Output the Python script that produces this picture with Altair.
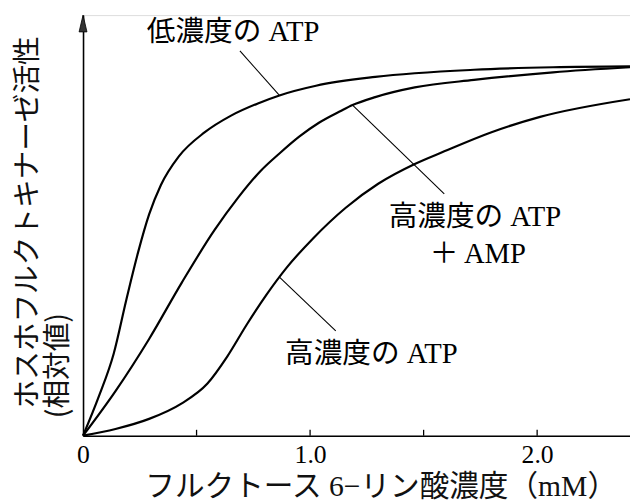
import altair as alt
import pandas as pd

# ---- data (x: mM, y: relative activity 0-100) ----
fbp_low_atp = [0, 0.070, 0.135, 0.191, 0.243, 0.291, 0.343, 0.422, 0.535, 0.652, 0.770, 0.865, 1.026, 1.287, 1.722, 2.070, 2.409]
act_low_atp = [0, 9.4, 19.5, 32.4, 43.7, 52.6, 59.6, 66.4, 72.1, 76.1, 79.0, 80.9, 83.2, 85.3, 87.0, 87.6, 87.8]

fbp_high_amp = [0, 0.143, 0.291, 0.435, 0.578, 0.683, 0.783, 0.865, 0.952, 1.039, 1.135, 1.187, 1.287, 1.461, 1.722, 2.070, 2.409]
act_high_amp = [0, 10.6, 23.0, 36.4, 48.8, 56.6, 63.0, 67.1, 71.1, 74.4, 77.2, 78.6, 80.5, 82.8, 84.6, 86.4, 87.6]

fbp_high_atp = [0, 0.143, 0.291, 0.435, 0.548, 0.635, 0.722, 0.809, 0.896, 1.013, 1.157, 1.300, 1.461, 1.591, 1.796, 2.013, 2.409]
act_high_atp = [0, 1.6, 4.0, 7.7, 12.4, 18.8, 26.5, 33.6, 39.9, 46.9, 54.2, 59.9, 64.6, 67.6, 72.1, 75.8, 80.0]

tick_values = [0.5, 1.0, 1.5, 2.0]
label_values = [0, 1, 2]

ann_text = ["低濃度の ATP", "高濃度の ATP", "＋ AMP", "高濃度の ATP"]
ann_x = [0.661, 1.726, 1.739, 1.270]
ann_y = [96.0, 51.9, 43.2, 19.5]

lead_x = [0.691, 1.187, 0.865]
lead_y = [91.5, 78.6, 37.7]
lead_x2 = [0.865, 1.591, 1.113]
lead_y2 = [80.9, 57.5, 24.9]

y_title_1 = "ホスホフルクトキナーゼ活性"
y_title_2 = "(相対値)"
x_title = "フルクトース 6−リン酸濃度（mM）"

# ---- tables ----
curves = pd.DataFrame({
    "x": fbp_low_atp + fbp_high_amp + fbp_high_atp,
    "y": act_low_atp + act_high_amp + act_high_atp,
    "s": ["low"] * len(fbp_low_atp) + ["amp"] * len(fbp_high_amp) + ["high"] * len(fbp_high_atp),
})
ticks = pd.DataFrame({"x": tick_values, "y": [0] * len(tick_values), "y2": [1.4] * len(tick_values)})
ann = pd.DataFrame({"x": ann_x, "y": ann_y, "t": ann_text})
leads = pd.DataFrame({"x": lead_x, "y": lead_y, "x2": lead_x2, "y2": lead_y2})
arrow = pd.DataFrame({"x": [0], "y": [98.0]})

XMAX = 2.409
xs = alt.Scale(domain=[0, XMAX], nice=False, zero=False)
ys = alt.Scale(domain=[0, 100], nice=False)

xa = alt.Axis(values=label_values, labelExpr="datum.value == 0 ? '0' : format(datum.value, '.1f')",
              ticks=False, tickSize=0, grid=False, domainColor="black", domainWidth=1.6,
              labelFont="Liberation Serif", labelFontSize=26, labelColor="black",
              labelPadding=6, labelFlush=False, title=None)
ya = alt.Axis(ticks=False, labels=False, grid=False, domainColor="black", domainWidth=1.6, title=None)

X = lambda f="x": alt.X(f"{f}:Q", scale=xs, axis=xa)
Y = lambda f="y": alt.Y(f"{f}:Q", scale=ys, axis=ya)

lines = alt.Chart(curves).mark_line(color="black", strokeWidth=2.2, interpolate="monotone").encode(
    x=X(), y=Y(), detail="s:N")

tick_marks = alt.Chart(ticks).mark_rule(color="black", strokeWidth=1.3).encode(
    x=X(), y=Y(), y2="y2:Q")

lead_marks = alt.Chart(leads).mark_rule(color="black", strokeWidth=1.1).encode(
    x=X(), y=Y(), x2="x2:Q", y2="y2:Q")

labels = alt.Chart(ann).mark_text(font="Liberation Serif, Noto Sans CJK JP", fontSize=29,
                                  color="black", align="center", baseline="middle").encode(
    x=X(), y=Y(), text="t:N")

arrow_mark = alt.Chart(arrow).mark_point(shape="M0,-1L0.47,1L-0.47,1Z", size=289, filled=True,
                                         color="#333333", opacity=1, strokeWidth=0.8,
                                         stroke="black").encode(x=X(), y=Y())

yt1 = alt.Chart(pd.DataFrame({"t": [y_title_1]})).mark_text(
    font="Noto Sans CJK JP", fontSize=29, angle=270, align="center", baseline="middle", color="#111").encode(
    x=alt.value(-56), y=alt.value(210), text="t:N")
yt2 = alt.Chart(pd.DataFrame({"t": [y_title_2]})).mark_text(
    font="Noto Sans CJK JP", fontSize=29, angle=270, align="center", baseline="middle", color="#111").encode(
    x=alt.value(-25), y=alt.value(355), text="t:N")
xt = alt.Chart(pd.DataFrame({"t": [x_title]})).mark_text(
    font="Liberation Serif, Noto Sans CJK JP", fontSize=30, align="center", baseline="middle", color="#111").encode(
    x=alt.value(302), y=alt.value(478), text="t:N")

chart = alt.layer(lines, tick_marks, lead_marks, labels, arrow_mark, yt1, yt2, xt).properties(
    width=554, height=426,
    padding={"left": 76, "top": 4, "right": 0, "bottom": 66},
    autosize=alt.AutoSizeParams(type="none"),
).configure_view(stroke=None).configure(background="white")

chart.save("out.html", embed_options={"renderer": "svg", "actions": False})
